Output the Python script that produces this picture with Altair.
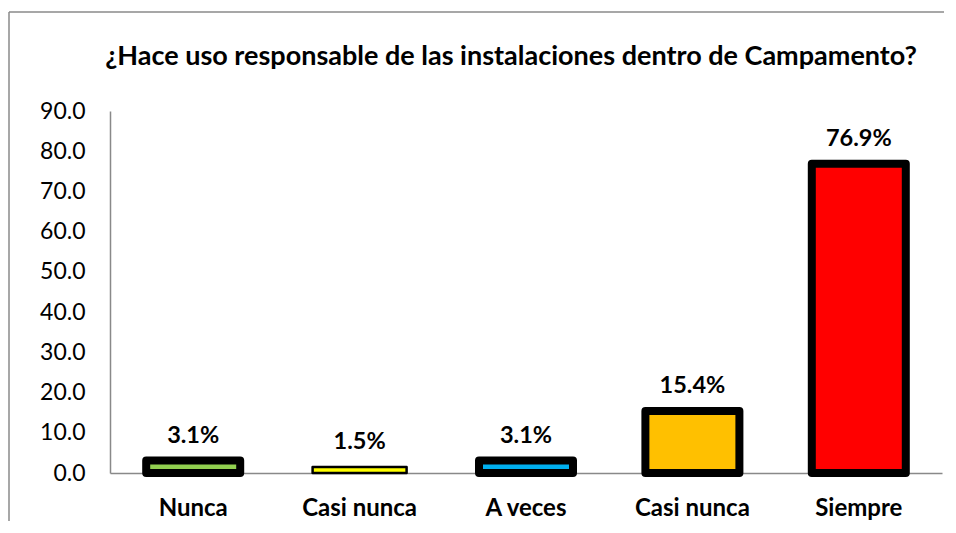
import json
import altair as alt
import pandas as pd

categories = ["Nunca", "Casi nunca", "A veces", "Casi nunca", "Siempre"]
values = [3.1, 1.5, 3.1, 15.4, 76.9]
labels = ["3.1%", "1.5%", "3.1%", "15.4%", "76.9%"]
colors = ["#92D050", "#FFFF00", "#00B0F0", "#FFC000", "#FF0000"]
stroke_widths = [8, 2.5, 8, 8, 8]
y_ticks = [0, 10, 20, 30, 40, 50, 60, 70, 80, 90]
title_text = "¿Hace uso responsable de las instalaciones dentro de Campamento?"

df = pd.DataFrame({
    "idx": list(range(len(categories))),
    "cat": categories,
    "value": values,
    "label": labels,
    "color": colors,
    "sw": stroke_widths,
})

FONT = "Lato"
label_expr = json.dumps(categories) + "[datum.value]"

x = alt.X(
    "idx:O",
    scale=alt.Scale(paddingInner=0, paddingOuter=0),
    axis=alt.Axis(
        title=None, labelAngle=0, labelExpr=label_expr, labelFont=FONT,
        labelFontSize=24, labelFontWeight="bold", labelColor="black",
        labelPadding=23, ticks=False, domainColor="#898989", domainWidth=1.5,
    ),
)
y = alt.Y(
    "value:Q",
    scale=alt.Scale(domain=[0, 90], nice=False),
    axis=alt.Axis(
        title=None, values=y_ticks, format=".1f", grid=False, ticks=False,
        labelPadding=25, labelFontSize=23, labelFont=FONT, labelColor="black",
        domainColor="#898989", domainWidth=1.5,
    ),
)

base = alt.Chart(df)
one = pd.DataFrame({"a": [0]})

border_left = alt.Chart(one).mark_rule(stroke="#8a8a8a", strokeWidth=1.5).encode(
    x=alt.value(-101), y=alt.value(-99), y2=alt.value(410)
)
border_top = alt.Chart(one).mark_rule(stroke="#8a8a8a", strokeWidth=1.5).encode(
    x=alt.value(-101), x2=alt.value(834), y=alt.value(-99)
)

title_mark = alt.Chart(one).mark_text(
    font=FONT, fontSize=27, fontWeight="bold", color="black",
    align="center", baseline="alphabetic",
).encode(x=alt.value(401), y=alt.value(-46), text=alt.value(title_text))

bars = base.mark_bar(width=94, stroke="black", strokeJoin="round").encode(
    x=x,
    y=y,
    color=alt.Color("color:N", scale=None),
    strokeWidth=alt.StrokeWidth("sw:Q", scale=None),
)

text = base.mark_text(
    dy=-25, baseline="middle", fontSize=23.5, font=FONT, fontWeight="bold", color="black"
).encode(x=x, y=y, text="label:N")

chart = alt.layer(border_left, border_top, title_mark, bars, text).properties(
    width=832,
    height=362,
    autosize=alt.AutoSizeParams(type="none"),
    padding={"left": 102, "top": 103, "right": 4, "bottom": 50},
    background="white",
).configure_view(strokeWidth=0)

chart.save("out.html", embed_options={"renderer": "svg", "actions": False})
